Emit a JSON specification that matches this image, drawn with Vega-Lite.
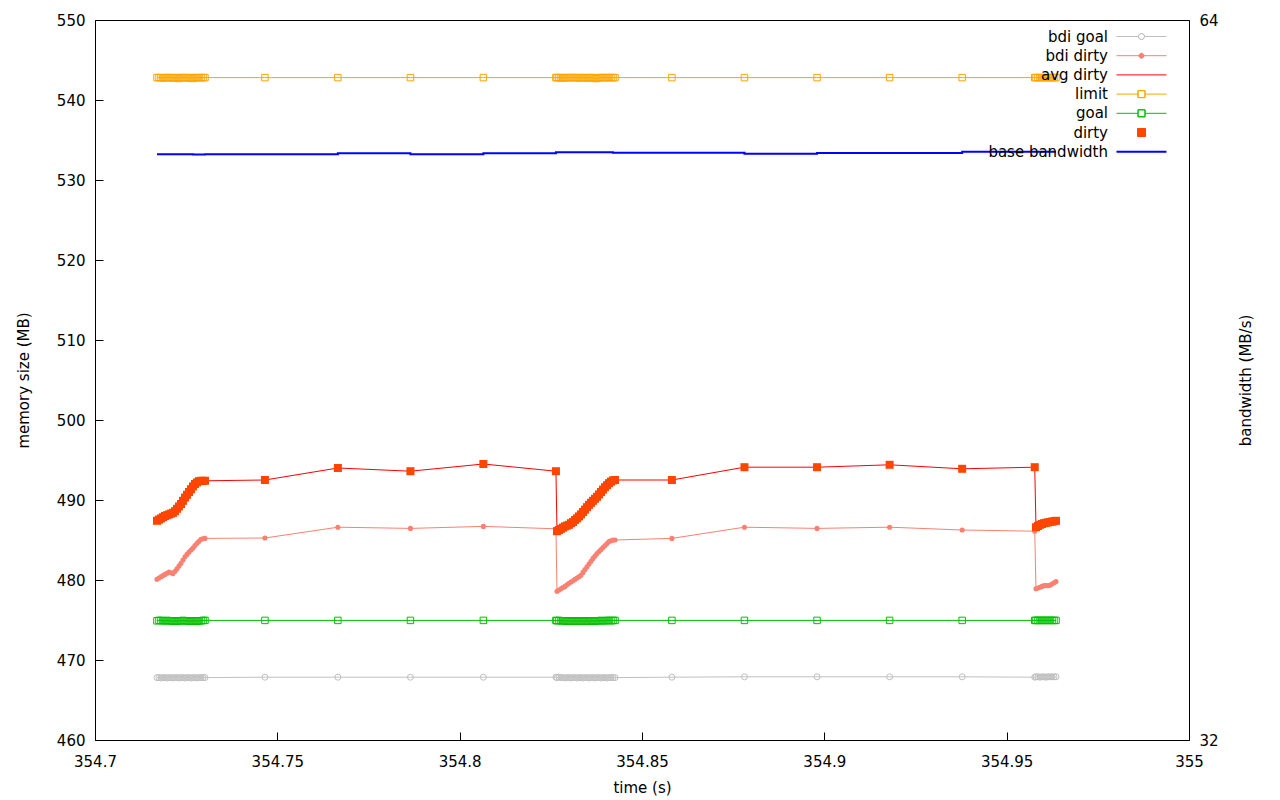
{
  "$schema": "https://vega.github.io/schema/vega-lite/v6.json",
  "width": 1094,
  "height": 720,
  "autosize": {"type": "none"},
  "padding": {"left": 95, "top": 20, "right": 91, "bottom": 60},
  "background": "white",
  "config": {
    "font": "DejaVu Sans",
    "view": {"stroke": "black", "strokeWidth": 1},
    "axis": {
      "labelFont": "DejaVu Sans", "labelFontSize": 15, "labelColor": "black",
      "titleFont": "DejaVu Sans", "titleFontSize": 15, "titleFontWeight": "normal", "titleColor": "black",
      "tickColor": "black", "tickSize": -8, "tickWidth": 1,
      "domain": false, "grid": false, "labelFlush": false, "labelOverlap": false
    },
    "legend": {
      "labelFont": "DejaVu Sans", "labelFontSize": 15, "labelColor": "black"
    }
  },
  "datasets": {
    "mem": [
      {"t": 354.71700, "bdi goal": 467.8, "bdi dirty": 480.1, "dirty": 487.4, "limit": 542.8, "goal": 474.9},
      {"t": 354.71755, "bdi goal": 467.8, "bdi dirty": 480.25, "dirty": 487.55, "limit": 542.8, "goal": 474.95},
      {"t": 354.71810, "bdi goal": 467.75, "bdi dirty": 480.4, "dirty": 487.7, "limit": 542.8, "goal": 474.95},
      {"t": 354.71865, "bdi goal": 467.8, "bdi dirty": 480.55, "dirty": 487.85, "limit": 542.75, "goal": 474.9},
      {"t": 354.71920, "bdi goal": 467.8, "bdi dirty": 480.7, "dirty": 488.0, "limit": 542.8, "goal": 474.9},
      {"t": 354.71974, "bdi goal": 467.75, "bdi dirty": 480.85, "dirty": 488.1, "limit": 542.8, "goal": 474.95},
      {"t": 354.72029, "bdi goal": 467.8, "bdi dirty": 481.0, "dirty": 488.2, "limit": 542.8, "goal": 474.9},
      {"t": 354.72084, "bdi goal": 467.8, "bdi dirty": 480.9, "dirty": 488.3, "limit": 542.8, "goal": 474.9},
      {"t": 354.72139, "bdi goal": 467.75, "bdi dirty": 480.8, "dirty": 488.4, "limit": 542.75, "goal": 474.85},
      {"t": 354.72194, "bdi goal": 467.8, "bdi dirty": 481.1, "dirty": 488.6, "limit": 542.8, "goal": 474.9},
      {"t": 354.72249, "bdi goal": 467.8, "bdi dirty": 481.4, "dirty": 488.9, "limit": 542.8, "goal": 474.85},
      {"t": 354.72303, "bdi goal": 467.75, "bdi dirty": 481.75, "dirty": 489.2, "limit": 542.7, "goal": 474.9},
      {"t": 354.72358, "bdi goal": 467.8, "bdi dirty": 482.1, "dirty": 489.5, "limit": 542.8, "goal": 474.9},
      {"t": 354.72413, "bdi goal": 467.8, "bdi dirty": 482.5, "dirty": 489.9, "limit": 542.8, "goal": 474.95},
      {"t": 354.72468, "bdi goal": 467.75, "bdi dirty": 482.9, "dirty": 490.3, "limit": 542.8, "goal": 474.9},
      {"t": 354.72523, "bdi goal": 467.8, "bdi dirty": 483.2, "dirty": 490.65, "limit": 542.8, "goal": 474.9},
      {"t": 354.72578, "bdi goal": 467.8, "bdi dirty": 483.5, "dirty": 491.0, "limit": 542.75, "goal": 474.85},
      {"t": 354.72633, "bdi goal": 467.75, "bdi dirty": 483.75, "dirty": 491.35, "limit": 542.8, "goal": 474.85},
      {"t": 354.72687, "bdi goal": 467.8, "bdi dirty": 484.0, "dirty": 491.7, "limit": 542.7, "goal": 474.9},
      {"t": 354.72742, "bdi goal": 467.8, "bdi dirty": 484.3, "dirty": 492.0, "limit": 542.8, "goal": 474.9},
      {"t": 354.72797, "bdi goal": 467.75, "bdi dirty": 484.6, "dirty": 492.2, "limit": 542.8, "goal": 474.85},
      {"t": 354.72852, "bdi goal": 467.8, "bdi dirty": 484.85, "dirty": 492.35, "limit": 542.8, "goal": 474.9},
      {"t": 354.72907, "bdi goal": 467.8, "bdi dirty": 485.1, "dirty": 492.4, "limit": 542.8, "goal": 474.9},
      {"t": 354.72962, "bdi goal": 467.8, "bdi dirty": 485.15, "dirty": 492.4, "limit": 542.8, "goal": 474.95},
      {"t": 354.73016, "bdi goal": 467.8, "bdi dirty": 485.2, "dirty": 492.4, "limit": 542.8, "goal": 474.95},
      {"t": 354.7466, "bdi goal": 467.85, "bdi dirty": 485.25, "dirty": 492.5, "limit": 542.8, "goal": 474.95},
      {"t": 354.7666, "bdi goal": 467.85, "bdi dirty": 486.6, "dirty": 494.0, "limit": 542.8, "goal": 474.95},
      {"t": 354.7865, "bdi goal": 467.85, "bdi dirty": 486.45, "dirty": 493.6, "limit": 542.8, "goal": 474.95},
      {"t": 354.8065, "bdi goal": 467.85, "bdi dirty": 486.7, "dirty": 494.5, "limit": 542.8, "goal": 474.95},
      {"t": 354.8264, "bdi goal": 467.85, "bdi dirty": 486.4, "dirty": 493.6, "limit": 542.8, "goal": 474.95},
      {"t": 354.82669, "bdi goal": 467.8, "bdi dirty": 478.6, "dirty": 486.1, "limit": 542.8, "goal": 474.9},
      {"t": 354.82724, "bdi goal": 467.85, "bdi dirty": 478.75, "dirty": 486.25, "limit": 542.8, "goal": 474.95},
      {"t": 354.82779, "bdi goal": 467.8, "bdi dirty": 478.9, "dirty": 486.4, "limit": 542.8, "goal": 474.9},
      {"t": 354.82834, "bdi goal": 467.8, "bdi dirty": 479.05, "dirty": 486.55, "limit": 542.75, "goal": 474.9},
      {"t": 354.82888, "bdi goal": 467.75, "bdi dirty": 479.2, "dirty": 486.7, "limit": 542.8, "goal": 474.9},
      {"t": 354.82943, "bdi goal": 467.8, "bdi dirty": 479.4, "dirty": 486.8, "limit": 542.8, "goal": 474.85},
      {"t": 354.82998, "bdi goal": 467.8, "bdi dirty": 479.6, "dirty": 486.9, "limit": 542.8, "goal": 474.9},
      {"t": 354.83053, "bdi goal": 467.75, "bdi dirty": 479.75, "dirty": 487.1, "limit": 542.8, "goal": 474.85},
      {"t": 354.83108, "bdi goal": 467.8, "bdi dirty": 479.9, "dirty": 487.25, "limit": 542.8, "goal": 474.85},
      {"t": 354.83163, "bdi goal": 467.8, "bdi dirty": 480.1, "dirty": 487.5, "limit": 542.8, "goal": 474.9},
      {"t": 354.83217, "bdi goal": 467.75, "bdi dirty": 480.25, "dirty": 487.7, "limit": 542.8, "goal": 474.85},
      {"t": 354.83272, "bdi goal": 467.8, "bdi dirty": 480.4, "dirty": 487.95, "limit": 542.75, "goal": 474.85},
      {"t": 354.83327, "bdi goal": 467.8, "bdi dirty": 480.6, "dirty": 488.2, "limit": 542.8, "goal": 474.9},
      {"t": 354.83382, "bdi goal": 467.75, "bdi dirty": 480.95, "dirty": 488.5, "limit": 542.8, "goal": 474.85},
      {"t": 354.83437, "bdi goal": 467.8, "bdi dirty": 481.3, "dirty": 488.8, "limit": 542.8, "goal": 474.85},
      {"t": 354.83492, "bdi goal": 467.8, "bdi dirty": 481.65, "dirty": 489.1, "limit": 542.75, "goal": 474.9},
      {"t": 354.83546, "bdi goal": 467.75, "bdi dirty": 482.0, "dirty": 489.4, "limit": 542.8, "goal": 474.85},
      {"t": 354.83601, "bdi goal": 467.8, "bdi dirty": 482.35, "dirty": 489.65, "limit": 542.8, "goal": 474.9},
      {"t": 354.83656, "bdi goal": 467.8, "bdi dirty": 482.7, "dirty": 489.9, "limit": 542.8, "goal": 474.9},
      {"t": 354.83711, "bdi goal": 467.75, "bdi dirty": 483.0, "dirty": 490.15, "limit": 542.7, "goal": 474.85},
      {"t": 354.83766, "bdi goal": 467.8, "bdi dirty": 483.3, "dirty": 490.4, "limit": 542.7, "goal": 474.9},
      {"t": 354.83821, "bdi goal": 467.8, "bdi dirty": 483.55, "dirty": 490.7, "limit": 542.8, "goal": 474.9},
      {"t": 354.83876, "bdi goal": 467.75, "bdi dirty": 483.8, "dirty": 491.0, "limit": 542.8, "goal": 474.95},
      {"t": 354.83930, "bdi goal": 467.8, "bdi dirty": 484.05, "dirty": 491.3, "limit": 542.8, "goal": 474.9},
      {"t": 354.83985, "bdi goal": 467.8, "bdi dirty": 484.3, "dirty": 491.6, "limit": 542.8, "goal": 474.9},
      {"t": 354.84040, "bdi goal": 467.75, "bdi dirty": 484.55, "dirty": 491.85, "limit": 542.8, "goal": 474.95},
      {"t": 354.84095, "bdi goal": 467.8, "bdi dirty": 484.8, "dirty": 492.1, "limit": 542.8, "goal": 474.95},
      {"t": 354.84150, "bdi goal": 467.8, "bdi dirty": 484.9, "dirty": 492.3, "limit": 542.8, "goal": 474.9},
      {"t": 354.84205, "bdi goal": 467.8, "bdi dirty": 485.0, "dirty": 492.45, "limit": 542.8, "goal": 474.95},
      {"t": 354.84260, "bdi goal": 467.8, "bdi dirty": 485.0, "dirty": 492.5, "limit": 542.8, "goal": 474.95},
      {"t": 354.8582, "bdi goal": 467.85, "bdi dirty": 485.2, "dirty": 492.5, "limit": 542.8, "goal": 474.95},
      {"t": 354.8781, "bdi goal": 467.9, "bdi dirty": 486.6, "dirty": 494.1, "limit": 542.8, "goal": 474.95},
      {"t": 354.8980, "bdi goal": 467.9, "bdi dirty": 486.45, "dirty": 494.1, "limit": 542.8, "goal": 474.95},
      {"t": 354.9179, "bdi goal": 467.9, "bdi dirty": 486.6, "dirty": 494.4, "limit": 542.8, "goal": 474.95},
      {"t": 354.9378, "bdi goal": 467.9, "bdi dirty": 486.25, "dirty": 493.9, "limit": 542.8, "goal": 474.95},
      {"t": 354.9577, "bdi goal": 467.85, "bdi dirty": 486.1, "dirty": 494.1, "limit": 542.8, "goal": 474.95},
      {"t": 354.95804, "bdi goal": 467.9, "bdi dirty": 478.9, "dirty": 486.6, "limit": 542.8, "goal": 474.95},
      {"t": 354.95859, "bdi goal": 467.9, "bdi dirty": 479.0, "dirty": 486.75, "limit": 542.8, "goal": 474.95},
      {"t": 354.95914, "bdi goal": 467.85, "bdi dirty": 479.1, "dirty": 486.9, "limit": 542.8, "goal": 474.95},
      {"t": 354.95969, "bdi goal": 467.9, "bdi dirty": 479.2, "dirty": 487.0, "limit": 542.8, "goal": 474.95},
      {"t": 354.96023, "bdi goal": 467.9, "bdi dirty": 479.3, "dirty": 487.1, "limit": 542.8, "goal": 474.95},
      {"t": 354.96078, "bdi goal": 467.85, "bdi dirty": 479.3, "dirty": 487.15, "limit": 542.8, "goal": 474.95},
      {"t": 354.96133, "bdi goal": 467.9, "bdi dirty": 479.3, "dirty": 487.2, "limit": 542.8, "goal": 474.95},
      {"t": 354.96188, "bdi goal": 467.9, "bdi dirty": 479.35, "dirty": 487.25, "limit": 542.8, "goal": 474.95},
      {"t": 354.96243, "bdi goal": 467.9, "bdi dirty": 479.5, "dirty": 487.3, "limit": 542.8, "goal": 474.95},
      {"t": 354.96298, "bdi goal": 467.9, "bdi dirty": 479.65, "dirty": 487.35, "limit": 542.8, "goal": 474.95},
      {"t": 354.96353, "bdi goal": 467.9, "bdi dirty": 479.8, "dirty": 487.4, "limit": 542.8, "goal": 474.95}
    ],
    "bw": [
      {"t": 354.7170, "bw": 58.03},
      {"t": 354.7269, "bw": 58.02},
      {"t": 354.7302, "bw": 58.03},
      {"t": 354.7466, "bw": 58.03},
      {"t": 354.7666, "bw": 58.08},
      {"t": 354.7865, "bw": 58.03},
      {"t": 354.8065, "bw": 58.08},
      {"t": 354.8264, "bw": 58.12},
      {"t": 354.8420, "bw": 58.10},
      {"t": 354.8582, "bw": 58.10},
      {"t": 354.8781, "bw": 58.06},
      {"t": 354.8980, "bw": 58.09},
      {"t": 354.9179, "bw": 58.09},
      {"t": 354.9378, "bw": 58.15},
      {"t": 354.9577, "bw": 58.15},
      {"t": 354.9635, "bw": 58.15}
    ]
  },
  "layer": [
    {
      "data": {"name": "mem"},
      "transform": [{"fold": ["bdi goal", "bdi dirty", "dirty", "limit", "goal"], "as": ["series", "v"]}],
      "layer": [
        {
          "transform": [{"filter": {"field": "series", "oneOf": ["bdi goal", "bdi dirty", "limit", "goal"]}}],
          "mark": {"type": "line", "strokeWidth": 1},
          "encoding": {
            "x": {"field": "t", "type": "quantitative", "title": "time (s)",
                  "scale": {"domain": [354.7, 355], "nice": false, "zero": false},
                  "axis": {"values": [354.7, 354.75, 354.8, 354.85, 354.9, 354.95, 355], "format": ".2~f", "labelPadding": 22, "titlePadding": 11}},
            "y": {"field": "v", "type": "quantitative", "title": "memory size (MB)",
                  "scale": {"domain": [460, 550], "nice": false, "zero": false},
                  "axis": {"values": [460, 470, 480, 490, 500, 510, 520, 530, 540, 550], "labelPadding": 18, "titlePadding": 25}},
            "color": {"field": "series", "type": "nominal",
                      "scale": {"domain": ["bdi goal", "bdi dirty", "avg dirty", "limit", "goal", "dirty", "base bandwidth"],
                                "range": ["#c0c0c0", "#fa8072", "#ff0000", "#ffa500", "#00c000", "#ff4500", "#0000ff"]},
                      "legend": {
                        "title": null, "orient": "none", "legendX": 1039, "legendY": 9, "padding": 0,
                        "symbolSize": 2500, "labelAlign": "right", "labelOffset": -41, "rowPadding": 3.2,
                        "labelFontSize": 15, "labelBaseline": "middle",
                        "encode": {
                          "symbols": {
                            "update": {
                              "shape": {"signal": "datum.value == 'dirty' ? 'M-0.16,-0.16H0.16V0.16H-0.16Z' : datum.value == 'bdi goal' ? 'M-1,0H-0.13M0.13,0H1M-0.12,0A0.12,0.12 0 1 0 0.12,0A0.12,0.12 0 1 0 -0.12,0ZM-0.12,0A0.12,0.12 0 1 1 0.12,0A0.12,0.12 0 1 1 -0.12,0Z' : datum.value == 'bdi dirty' ? 'M-1,0H1M-0.1,0A0.1,0.1 0 1 0 0.1,0A0.1,0.1 0 1 0 -0.1,0Z' : (datum.value == 'limit' || datum.value == 'goal') ? 'M-1,0H-0.14M0.14,0H1M-0.14,-0.14H0.14V0.14H-0.14ZM-0.14,-0.14V0.14H0.14V-0.14Z' : 'M-1,0H1'"},
                              "fill": {"signal": "datum.value == 'dirty' ? '#ff4500' : datum.value == 'bdi dirty' ? '#fa8072' : 'white'"},
                              "stroke": {"signal": "datum.value == 'bdi goal' ? '#c0c0c0' : datum.value == 'bdi dirty' ? '#fa8072' : datum.value == 'avg dirty' ? '#ff0000' : datum.value == 'limit' ? '#ffa500' : datum.value == 'goal' ? '#00c000' : datum.value == 'dirty' ? '#ff4500' : '#0000ff'"},
                              "strokeWidth": {"signal": "datum.value == 'base bandwidth' ? 2 : 1"},
                              "opacity": {"value": 1},
                              "fillOpacity": {"value": 1},
                              "strokeOpacity": {"value": 1}
                            }
                          }
                        }
                      }}
          }
        },
        {
          "transform": [{"filter": {"field": "series", "equal": "dirty"}}],
          "mark": {"type": "line", "strokeWidth": 1},
          "encoding": {
            "x": {"field": "t", "type": "quantitative", "title": "time (s)"},
            "y": {"field": "v", "type": "quantitative", "title": "memory size (MB)"},
            "color": {"datum": "avg dirty", "type": "nominal", "legend": null}
          }
        },
        {
          "transform": [{"filter": {"field": "series", "equal": "bdi goal"}}],
          "mark": {"type": "point", "shape": "circle", "filled": false, "size": 36, "strokeWidth": 1, "opacity": 1},
          "encoding": {
            "x": {"field": "t", "type": "quantitative", "title": "time (s)"},
            "y": {"field": "v", "type": "quantitative", "title": "memory size (MB)"},
            "color": {"field": "series", "type": "nominal", "legend": null}
          }
        },
        {
          "transform": [{"filter": {"field": "series", "equal": "bdi dirty"}}],
          "mark": {"type": "point", "shape": "circle", "filled": true, "size": 26, "opacity": 1},
          "encoding": {
            "x": {"field": "t", "type": "quantitative", "title": "time (s)"},
            "y": {"field": "v", "type": "quantitative", "title": "memory size (MB)"},
            "color": {"field": "series", "type": "nominal", "legend": null}
          }
        },
        {
          "transform": [{"filter": {"field": "series", "oneOf": ["limit", "goal"]}}],
          "mark": {"type": "point", "shape": "square", "filled": false, "size": 42, "strokeWidth": 1, "opacity": 1},
          "encoding": {
            "x": {"field": "t", "type": "quantitative", "title": "time (s)"},
            "y": {"field": "v", "type": "quantitative", "title": "memory size (MB)"},
            "color": {"field": "series", "type": "nominal", "legend": null}
          }
        },
        {
          "transform": [{"filter": {"field": "series", "equal": "dirty"}}],
          "mark": {"type": "point", "shape": "square", "filled": true, "size": 64, "opacity": 1},
          "encoding": {
            "x": {"field": "t", "type": "quantitative", "title": "time (s)"},
            "y": {"field": "v", "type": "quantitative", "title": "memory size (MB)"},
            "color": {"field": "series", "type": "nominal", "legend": null}
          }
        }
      ]
    },
    {
      "data": {"name": "bw"},
      "mark": {"type": "line", "interpolate": "step-after", "strokeWidth": 2},
      "encoding": {
        "x": {"field": "t", "type": "quantitative", "title": "time (s)"},
        "y": {"field": "bw", "type": "quantitative", "title": "bandwidth (MB/s)",
              "scale": {"domain": [32, 64], "nice": false, "zero": false},
              "axis": {"orient": "right", "values": [32, 64], "labelPadding": 18, "titlePadding": 35, "titleAngle": 270}},
        "color": {"datum": "base bandwidth", "type": "nominal", "legend": null}
      }
    }
  ],
  "resolve": {"scale": {"y": "independent"}}
}
